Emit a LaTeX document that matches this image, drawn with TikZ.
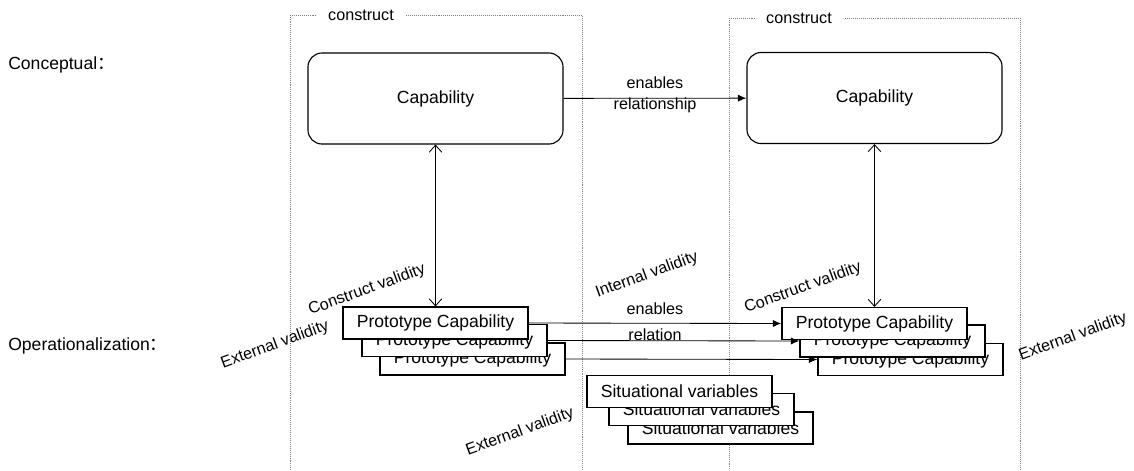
\documentclass[tikz,border=0pt]{standalone}
\usepackage{fontspec}
\setmainfont{Liberation Sans}
\newfontfamily\cjk{Noto Sans CJK SC}
\usetikzlibrary{arrows.meta}
\newcommand{\wide}{{\cjk ：}}
\begin{document}
\begin{tikzpicture}[x=0.025cm,y=-0.025cm,
	capbox/.style={draw,line width=0.8pt,rounded corners=10pt,minimum width=6.375cm,minimum height=2.275cm,font=\fontsize{12.5}{14}\selectfont},
	protobox/.style={draw,fill=white,line width=0.8pt,minimum width=4.625cm,minimum height=0.8cm,inner sep=0pt,font=\fontsize{12.5}{14}\selectfont},
	frame/.style={gray,line width=0.4pt,densely dotted},
	lbl/.style={font=\fontsize{11.5}{13}\selectfont,inner sep=1pt},
	rlbl/.style={lbl,rotate=20},
	flow/.style={-{Latex[length=6pt,width=5pt]},line width=0.6pt},
	valid/.style={{Straight Barb[length=5pt,width=9pt]}-{Straight Barb[length=5pt,width=9pt]},line width=0.6pt}]
	\useasboundingbox (0,0) rectangle (1134,470);
	% the two construct frames
	\draw[frame] (316,15)--(290,15)--(290,470);
	\draw[frame] (406,15)--(582,15)--(582,470);
	\node[lbl](cleft) at (361,15) {construct};
	\draw[frame] (755,18)--(729,18)--(729,470);
	\draw[frame] (845,18)--(1020,18)--(1020,470);
	\node[lbl](cright) at (799,18) {construct};
	% level labels
	\node[anchor=west,font=\fontsize{12.5}{14}\selectfont,inner sep=0pt](concept) at (8,65) {Conceptual\wide};
	\node[anchor=west,font=\fontsize{12.5}{14}\selectfont,inner sep=0pt](oper) at (8,346) {Operationalization\wide};
	% conceptual level
	\node[capbox](capA) at (435.5,98.5) {Capability};
	\node[capbox](capB) at (874.5,98) {Capability};
	\draw[flow] (capA)--(capB);
	\node[lbl](en1) at (655,83) {enables};
	\node[lbl](rel1) at (655,105) {relationship};
	% operational level, left stack
	\node[protobox](pA3) at (472.5,359) {Prototype Capability};
	\node[protobox](pA2) at (454.5,340.5) {Prototype Capability};
	\node[protobox](pA1) at (435.5,323) {Prototype Capability};
	% right stack
	\node[protobox](pB3) at (910.5,359.5) {Prototype Capability};
	\node[protobox](pB2) at (892.5,341) {Prototype Capability};
	\node[protobox](pB1) at (874.5,323.5) {Prototype Capability};
	% situational variables
	\node[protobox](sv3) at (720.5,428) {Situational variables};
	\node[protobox](sv2) at (701.5,409.5) {Situational variables};
	\node[protobox](sv1) at (679.5,391.5) {Situational variables};
	% relations between the stacks
	\draw[flow] (pA1.east)--(pB1.west);
	\draw[flow] (pA2.east)--(pB2.west);
	\draw[flow] (pA3.east)--(pB3.west);
	\node[lbl](en2) at (655,309) {enables};
	\node[lbl](rel2) at (655,335) {relation};
	% validities
	\draw[valid] (capA)--(pA1);
	\draw[valid] (capB)--(pB1);
	\node[rlbl](cvA) at (367,290) {Construct validity};
	\node[rlbl](cvB) at (803,288) {Construct validity};
	\node[rlbl](iv) at (647,275) {Internal validity};
	\node[rlbl](evA) at (275,345) {External validity};
	\node[rlbl](evB) at (1073,337) {External validity};
	\node[rlbl](evC) at (520,432) {External validity};
\end{tikzpicture}
\end{document}
